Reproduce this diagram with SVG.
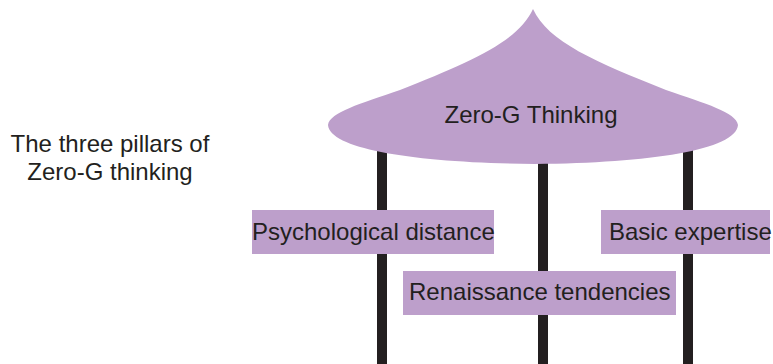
<svg xmlns="http://www.w3.org/2000/svg" width="773" height="364" viewBox="0 0 773 364">
<style>
.t{font-family:"Liberation Sans",Arial,sans-serif;font-size:24px;fill:#231f20}
.box{fill:#bd9fcb}
.pillar{fill:#231f20}
</style>
<rect width="773" height="364" fill="#ffffff"/>
<g id="caption">
<text class="t" x="110" y="152" text-anchor="middle">The three pillars of</text>
<text class="t" x="110" y="180" text-anchor="middle">Zero-G thinking</text>
</g>
<g id="connectors">
<rect class="pillar" x="377" y="140" width="10" height="224"/>
<rect class="pillar" x="538" y="140" width="10" height="224"/>
<rect class="pillar" x="683" y="140" width="10" height="224"/>
</g>
<g id="roof">
<path class="box" d="M533,9 C518,42 470,62 400,90 C360,104 330,112 328,125 C330,150 420,163 535,164 C650,163 736,150 738,125 C736,112 706,104 666,90 C596,62 548,42 533,9 Z"/>
<text class="t" x="531" y="123" text-anchor="middle">Zero-G Thinking</text>
</g>
<g id="psychological">
<rect class="box" x="252" y="210" width="242" height="44"/>
<text class="t" x="252" y="240">Psychological distance</text>
</g>
<g id="basic">
<rect class="box" x="601" y="210" width="169" height="44"/>
<text class="t" x="609" y="240">Basic expertise</text>
</g>
<g id="renaissance">
<rect class="box" x="403" y="271" width="273" height="44"/>
<text class="t" x="409" y="300">Renaissance tendencies</text>
</g>
</svg>
